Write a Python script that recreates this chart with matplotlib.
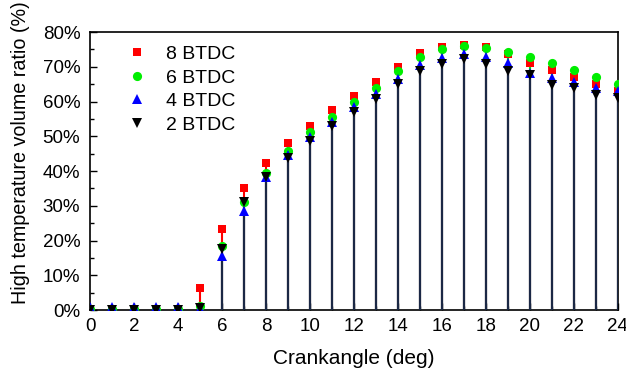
import numpy as np
import matplotlib
matplotlib.use("Agg")
from matplotlib import pyplot as plt
from matplotlib.ticker import MultipleLocator, PercentFormatter

plt.rcParams['font.family'] = ['Liberation Sans', 'DejaVu Sans']

# ==========================================================
# DADOS
# ==========================================================
crank = np.arange(0, 25)

btdc8 = [0.3, 0.3, 0.3, 0.3, 0.3, 6.2, 23.2, 35.2, 42.2, 48.0, 53.0, 57.6, 61.6,
         65.5, 70.0, 73.9, 75.8, 76.4, 75.8, 73.6, 71.0, 69.0, 67.0, 65.0, 63.1]
btdc6 = [0.2, 0.2, 0.2, 0.2, 0.2, 1.2, 18.5, 31.0, 39.5, 45.8, 51.1, 55.6, 59.8,
         64.0, 68.9, 72.8, 75.0, 76.0, 75.3, 74.3, 72.7, 71.0, 69.0, 67.0, 65.0]
btdc4 = [0.8, 0.8, 0.8, 0.8, 0.8, 0.3, 15.5, 28.6, 38.4, 44.5, 49.9, 54.2, 58.3,
         62.2, 66.6, 70.5, 72.4, 73.7, 72.7, 71.0, 68.1, 66.7, 65.7, 64.0, 63.0]
btdc2 = [0.0, 0.0, 0.0, 0.0, 0.0, 0.5, 17.5, 31.2, 38.3, 43.7, 48.7, 53.0, 56.9,
         60.6, 65.0, 68.9, 70.8, 72.1, 70.8, 68.9, 67.6, 64.7, 63.8, 61.9, 61.0]

series = [
    ("8 BTDC", btdc8, "red", "s", 5.8, "red"),
    ("6 BTDC", btdc6, "#00ee00", "o", 6.6, "#00ee00"),
    ("4 BTDC", btdc4, "blue", "^", 6.8, "blue"),
    ("2 BTDC", btdc2, "black", "v", 6.8, "#1b2845"),
]

# ==========================================================
# FIGURA
# ==========================================================
fig = plt.figure(figsize=(6.26, 3.77), dpi=100)
ax = fig.add_axes([0.1438, 0.1777, 0.8432, 0.7374])

for i, (nome, vals, cor, marc, tam, cor_linha) in enumerate(series):
    ax.vlines(crank, 0, vals, colors=cor_linha, lw=1.5, zorder=2 + i)
for i, (nome, vals, cor, marc, tam, cor_linha) in enumerate(series):
    ax.plot(crank, vals, ls="none", marker=marc, ms=tam, color=cor,
            mew=0, label=nome, zorder=10 + i)

ax.set_xlim(0, 24)
ax.set_ylim(0, 80)
ax.xaxis.set_major_locator(MultipleLocator(2))
ax.xaxis.set_minor_locator(MultipleLocator(1))
ax.yaxis.set_major_locator(MultipleLocator(10))
ax.yaxis.set_minor_locator(MultipleLocator(5))
ax.yaxis.set_major_formatter(PercentFormatter(decimals=0))
ax.tick_params(which="both", direction="in", labelsize=13.5, top=False, right=False)
ax.tick_params(which="major", length=5, width=1)
ax.tick_params(which="minor", length=3, width=1)
ax.tick_params(axis="y", which="major", pad=7)
ax.tick_params(axis="x", which="major", pad=6)
for s in ax.spines.values():
    s.set_linewidth(1.2)

ax.set_xlabel("Crankangle (deg)", fontsize=15)
ax.xaxis.set_label_coords(0.5, -0.14)
ax.set_ylabel("High temperature volume ratio (%)", fontsize=14.2)
ax.yaxis.set_label_coords(-0.113, 0.565)

ax.legend(loc="upper left", frameon=False, fontsize=14, handletextpad=1.0,
          labelspacing=0.3, bbox_to_anchor=(0.045, 1.0), handlelength=1.0,
          borderpad=0.2)

fig.savefig("out.png", dpi=100)
